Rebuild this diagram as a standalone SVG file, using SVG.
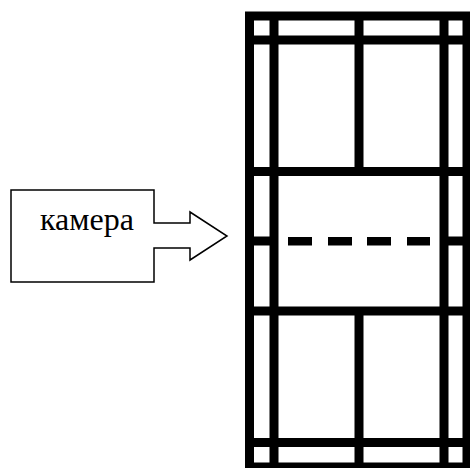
<svg xmlns="http://www.w3.org/2000/svg" width="470" height="468" viewBox="0 0 470 468">
<style>
.bar{stroke:#000;stroke-width:9;fill:none}
.dash{fill:#000}
.box{fill:#fff;stroke:#000;stroke-width:1.5}
.lbl{font-family:"Liberation Serif","DejaVu Serif",serif;font-size:32px;fill:#000}
</style>
<rect width="470" height="468" fill="#fff"/>
<g id="frame">
<line class="bar" x1="249.5" y1="12" x2="249.5" y2="468"/>
<line class="bar" x1="274" y1="12" x2="274" y2="468"/>
<line class="bar" x1="359" y1="12" x2="359" y2="176"/>
<line class="bar" x1="359" y1="307" x2="359" y2="468"/>
<line class="bar" x1="444" y1="12" x2="444" y2="468"/>
<line class="bar" x1="467" y1="12" x2="467" y2="468"/>
<line class="bar" x1="245" y1="16" x2="470" y2="16"/>
<line class="bar" x1="245" y1="40" x2="470" y2="40"/>
<line class="bar" x1="245" y1="171.5" x2="470" y2="171.5"/>
<line class="bar" x1="245" y1="311" x2="470" y2="311"/>
<line class="bar" x1="245" y1="442.5" x2="470" y2="442.5"/>
<line class="bar" x1="245" y1="467" x2="470" y2="467"/>
<line class="bar" x1="245" y1="241" x2="270" y2="241"/>
<line class="bar" x1="448" y1="241" x2="470" y2="241"/>
<rect class="dash" x="288" y="237" width="24" height="8.5"/>
<rect class="dash" x="328" y="237" width="24" height="8.5"/>
<rect class="dash" x="367" y="237" width="24" height="8.5"/>
<rect class="dash" x="407" y="237" width="23" height="8.5"/>
</g>
<g id="camera">
<polygon class="box" points="11,190 154,190 154,223 190,223 190,212 227,236 190,260 190,248 154,248 154,282 11,282"/>
<text class="lbl" x="40" y="230">камера</text>
</g>
<g id="connectors"></g>
</svg>
